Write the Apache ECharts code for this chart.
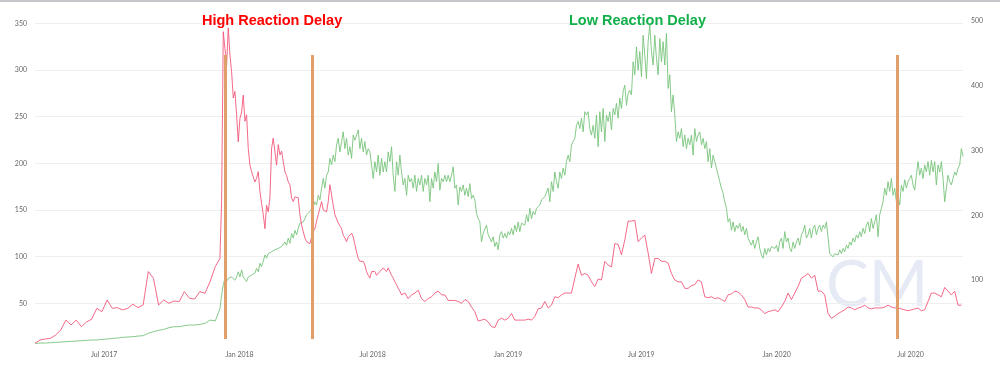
<!DOCTYPE html>
<html><head><meta charset="utf-8">
<script src="https://cdn.jsdelivr.net/npm/echarts@6/dist/echarts.min.js"></script>
<style>html,body{margin:0;padding:0;background:#fff}#c{width:1000px;height:366px}</style>
</head><body><div id="c"></div>
<script>
// x axis is measured in days since the first sample
const originDate = '2017-03-29';
const lastDay = 1261.3;

// early part: weekly samples starting at day 0
const earlyStepDays = 7;
const redEarly = [
  7.2, 10.7, 11.8, 12.5, 16, 21.4, 32, 26.8, 32, 25,
  30, 33, 44.6, 41, 53.6, 44.6, 45.3, 42.9, 44.6, 49,
  45.3, 48.2, 84, 76.8, 48.2, 53.6, 50, 52.5, 51.8, 62.5,
  55.4, 54.6, 62.5, 60.7, 73.2, 89.3
];
const greenEarly = [
  2.5, 3, 3, 3.5, 4, 4.6, 5.1, 5.6, 6.1, 6.6,
  7.2, 7.7, 7.7, 8.7, 9.2, 10.2, 10.7, 11.8, 12.3, 12.8,
  13.8, 14.3, 18, 20.5, 22.6, 24.1, 26.7, 28.2, 28.2, 29.8,
  30.8, 30.8, 31.8, 33.4, 38.5, 37
];

// later part: dense samples (from early Dec 2017)
const fineStartDay = 251.36;
const fineStepDays = 2.2645;
const redFineA = [
  98,159,341,323,305,345,316,298,270,277,
  252,223,248,255,273,245,252,216,198,191,
  191,180,184,191,170,157,145,130,155,148,
  163,216,227,229,198,220,209,213,202,191,
  187,180,177,163,159,164,166,163,145,134,
  127,120,116,116,114,116,127,130,138,145,
  152,159,150,148,148,159,177,166,155,145,
  145,136,138,130,123,120,116,121,123,125,
  121,113,105,98,95,96,95,91,84,80,
  77,84,82,84,80,82,84,84,88,88,
  84,88,84,80,77,73,70,66,63,59,
  59
];
// red continues at twice the spacing
const redFineB = [
  61,55,59,61,64,55,52,55,57,61, 63,59,59,53,53,53,52,50,54,52,
  46,41,31,32,33,30,25,24,32,34, 32,34,39,32,32,32,32,33,32,36,
  44,45,52,45,48,57,56,59,61,61, 61,77,92,80,82,80,
  73,68,76,75,95,91,89,114,113,102, 118,138,138,139,116,120,123,104,82,98,
  98,95,95,93,82,75,73,73,66,66, 69,70,75,73,57,56,57,55,56,54,
  52,59,60,63,62,59,54,46,46,45, 45,43,39,41,42,
  43,41,46,52,61,54,61,68,77,79, 82,77,80,63,63,59,39,34,36,39,
  41,43,46,45,43,45,46,48,45,44, 45,45,45,46,48,46,45,45,44,43,
  42,43,44,45,42,43,52,61,61,59, 57,67,63,59,63,48,48
];
const greenFine = [
  56,77,93,103,98,103,100,105,108,100, 105,113,105,116,105,103,98,105,103,108,
  108,111,118,113,126,121,129,139,134,141, 139,144,141,147,144,149,147,152,149,159,
  154,165,157,172,165,177,170,180,188,185, 190,195,201,203,206,208,213,221,216,231,
  224,242,257,242,262,267,288,278,293,283, 309,319,298,314,329,303,319,293,306,288,
  324,316,324,332,303,319,298,314,293,303, 298,278,257,283,267,293,262,288,267,283,
  267,298,283,306,262,237,283,262,293,267, 247,
  257,231,262,252,257,242,262,237,257,247, 262,237,257,247,262,221,257,242,267,252,
  280,239,257,252,262,252,262,252,262,275, 242,247,216,244,237,247,231,242,229,249,
  226,231,224,203,195,190,159,172,170,185, 170,165,159,167,152,159,147,170,175,165,
  172,165,175,170,180,170,185,175,190,175, 188,190,185,201,190,211,195,206,201,211,
  213,216,224,221,229,231,242,221,252,237, 267,252,242,267,257,273,262,283,293,283,
  309,314,319,339,345,334,350,329,360,355, 360,
  334,324,339,319,355,306,360,329,365,314, 355,345,360,332,365,355,373,350,381,365,
  391,401,370,388,393,386,437,417,460,424, 453,414,478,447,411,468,494,453,432,478,
  442,417,473,437,468,432,481,396,417,360, 386,355,314,329,319,334,306,324,303,319,
  309,324,293,334,314,324,329,309,319,303, 314,283,303,273,293,283,273,262,252,242,
  234,221,211,190,195,177,190,175,185,180, 188,175,183,170,180,165,159,154,162,149,
  159,167,149,139,134,149,139,149,144,152, 149,
  149,154,144,159,165,149,175,159,165,149, 144,159,149,159,165,154,170,175,185,165,
  170,180,165,180,185,170,180,185,175,185, 180,190,188,141,144,136,141,144,139,147,
  141,149,144,154,149,159,154,165,159,170, 165,175,167,180,172,185,190,175,195,180,
  190,201,167,201,211,221,242,231,252,237, 257,231,242,221,231,216,247,237,255,242,
  252,257,262,247,239,262,283,262,273,257, 278,267,283,262,285,267,283,247,278,267,
  283,257,221,242,262,252,247,257,267,262, 273,278,303,291
];

const xTickDates = ['2017-07-01', '2018-01-01', '2018-07-01', '2019-01-01', '2019-07-01', '2020-01-01', '2020-07-01'];
const monthNames = ['Jan','Feb','Mar','Apr','May','Jun','Jul','Aug','Sep','Oct','Nov','Dec'];
const leftTicks = [50, 100, 150, 200, 250, 300, 350];
const rightTicks = [100, 200, 300, 400, 500];
const markerDates = ['2017-12-12', '2018-04-10', '2020-06-13'];
const markerRange = [11.8, 316];
const titleHigh = 'High Reaction Delay';
const titleLow = 'Low Reaction Delay';

const DAY = 86400000;
function utc(s) { const p = s.split('-').map(Number); return Date.UTC(p[0], p[1] - 1, p[2]); }
const originTs = utc(originDate);
function dayOf(s) { return (utc(s) - originTs) / DAY; }

const redData = []
  .concat(redEarly.map((v, i) => [i * earlyStepDays, v]))
  .concat(redFineA.map((v, k) => [fineStartDay + k * fineStepDays, v]))
  .concat(redFineB.map((v, k) => [fineStartDay + (redFineA.length + 2 * k) * fineStepDays, v]));
const greenData = []
  .concat(greenEarly.map((v, i) => [i * earlyStepDays, v]))
  .concat(greenFine.map((v, k) => [fineStartDay + k * fineStepDays, v]));

const chart = echarts.init(document.getElementById('c'), null, { renderer: 'canvas' });
const axisFont = { fontFamily: 'Lato', fontSize: 7, color: '#666' };

chart.setOption({
  animation: false,
  backgroundColor: '#fff',
  grid: { left: 35, right: 37, top: 21, bottom: 21, containLabel: false },
  xAxis: {
    type: 'value', min: 0, max: lastDay,
    axisLine: { show: false }, axisTick: { show: false, customValues: xTickDates.map(dayOf) }, splitLine: { show: false },
    axisLabel: Object.assign({}, axisFont, {
      margin: 6,
      customValues: xTickDates.map(dayOf),
      formatter: v => { const d = new Date(originTs + Math.round(v) * DAY); return monthNames[d.getUTCMonth()] + ' ' + d.getUTCFullYear(); }
    })
  },
  yAxis: [
    {
      type: 'value', position: 'left', min: 5.32, max: 352.46,
      axisLine: { show: false },
      axisTick: { show: false, customValues: leftTicks },
      axisLabel: Object.assign({}, axisFont, { margin: 8, customValues: leftTicks }),
      splitLine: { show: true, lineStyle: { color: '#efefef', width: 1 } }
    },
    {
      type: 'value', position: 'right', min: 0, max: 500,
      axisLine: { show: false },
      axisTick: { show: false, customValues: rightTicks },
      axisLabel: Object.assign({}, axisFont, { margin: 8, customValues: rightTicks }),
      splitLine: { show: false }
    }
  ],
  series: [
    {
      type: 'line', yAxisIndex: 1, data: greenData, showSymbol: false, z: 2,
      lineStyle: { color: '#78c47c', width: 0.9 }, itemStyle: { color: '#78c47c' }
    },
    {
      type: 'line', yAxisIndex: 0, data: redData, showSymbol: false, z: 3,
      lineStyle: { color: '#f2587a', width: 0.9 }, itemStyle: { color: '#f2587a' },
      markLine: {
        silent: true, symbol: ['none', 'none'], label: { show: false }, z: 5,
        lineStyle: { color: '#e09f6a', width: 3, type: 'solid' },
        data: markerDates.map(d => [{ coord: [dayOf(d), markerRange[0]] }, { coord: [dayOf(d), markerRange[1]] }])
      }
    }
  ],
  graphic: [
    { type: 'rect', shape: { x: 0, y: 0, width: 1000, height: 2 }, style: { fill: '#c6c6ca' }, z: 10 },
    { type: 'text', x: 877, y: 285, z: 0, style: { text: 'CM', font: 'normal 64px Lato', fill: '#e6eaf4', align: 'center', verticalAlign: 'middle' } },
    { type: 'text', x: 202, y: 21, z: 10, style: { text: titleHigh, font: 'bold 14.5px "Liberation Sans", Arial', fill: '#ff0000', verticalAlign: 'middle' } },
    { type: 'text', x: 569, y: 21, z: 10, style: { text: titleLow, font: 'bold 14.5px "Liberation Sans", Arial', fill: '#12b04b', verticalAlign: 'middle' } }
  ]
});
</script>
</body></html>
